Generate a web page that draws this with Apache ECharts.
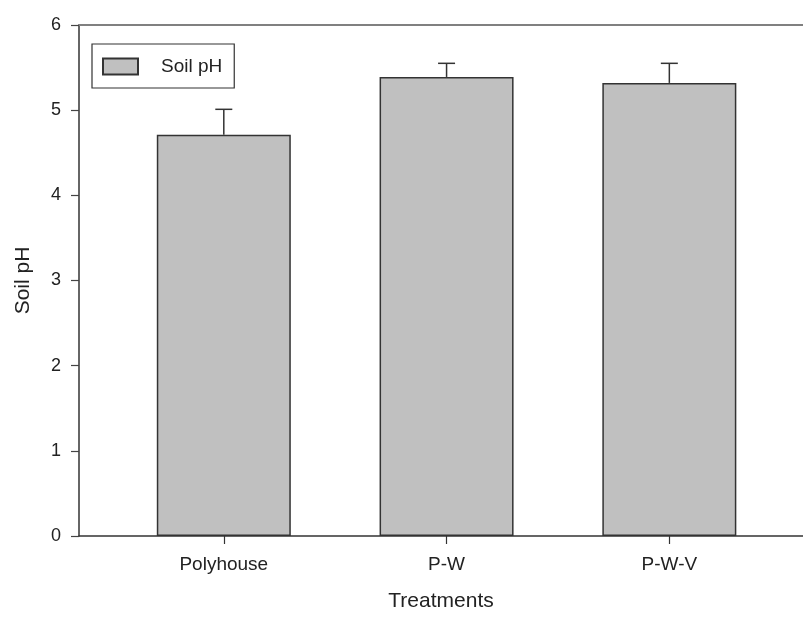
<!DOCTYPE html>
<html>
<head>
<meta charset="utf-8">
<script src="https://cdn.jsdelivr.net/npm/echarts@6/dist/echarts.min.js"></script>
<style>html,body{margin:0;padding:0;background:#fff}#c{width:803px;height:617px}</style>
</head>
<body>
<div id="c"></div>
<script>
var categories = ['Polyhouse', 'P-W', 'P-W-V'];
var positions = [1, 2, 3];
var soilPH = [4.71, 5.39, 5.32];
var soilPHErr = [0.30, 0.16, 0.23];
var yTicks = [0, 1, 2, 3, 4, 5, 6];

var barData = positions.map(function (p, i) { return [p, soilPH[i]]; });
var errData = positions.map(function (p, i) { return [p, soilPH[i], soilPH[i] + soilPHErr[i]]; });

var FONT = 'Liberation Sans';
var chart = echarts.init(document.getElementById('c'));
chart.setOption({
  animation: false,
  backgroundColor: '#fff',
  textStyle: { fontFamily: FONT },
  grid: { left: 79, right: 0, top: 25, bottom: 75 },
  legend: {
    left: 92, top: 44,
    orient: 'vertical',
    padding: [13, 12, 12, 10],
    borderColor: '#333', borderWidth: 1.2, borderRadius: 0,
    itemWidth: 35, itemHeight: 16,
    textStyle: { fontFamily: FONT, fontSize: 19, color: '#222', padding: [0, 0, 0, 18] },
    data: [{ name: 'Soil pH', icon: 'rect' }]
  },
  xAxis: [{
    type: 'value', min: 0.35, max: 3.6,
    position: 'bottom',
    splitLine: { show: false },
    axisLine: { show: true, onZero: false, lineStyle: { color: '#333', width: 1.5 } },
    axisTick: { show: true, customValues: positions, length: 8, inside: false, lineStyle: { color: '#333', width: 1.2 } },
    axisLabel: {
      customValues: positions, margin: 19, fontSize: 19, color: '#222', fontFamily: FONT,
      formatter: function (v) { var i = positions.indexOf(Math.round(v)); return i >= 0 ? categories[i] : ''; }
    },
    name: 'Treatments', nameLocation: 'middle', nameGap: 55,
    nameTextStyle: { fontSize: 21, color: '#222', fontFamily: FONT }
  }, {
    type: 'value', min: 0.35, max: 3.6,
    position: 'top',
    splitLine: { show: false },
    axisLine: { show: true, onZero: false, lineStyle: { color: '#808080', width: 2 } },
    axisTick: { show: false }, axisLabel: { show: false }
  }],
  yAxis: {
    type: 'value', min: 0, max: 6, interval: 1,
    splitLine: { show: false },
    axisLine: { show: true, lineStyle: { color: '#333', width: 1.5 } },
    axisTick: { show: true, length: 8, lineStyle: { color: '#444', width: 1.2 } },
    axisLabel: {
      margin: 18, fontSize: 18, color: '#222', fontFamily: FONT,
      customValues: yTicks,
      formatter: function (v) { return String(v); }
    },
    name: 'Soil pH', nameLocation: 'middle', nameGap: 45,
    nameTextStyle: { fontSize: 21, color: '#222', fontFamily: FONT }
  },
  series: [{
    name: 'Soil pH',
    type: 'bar',
    xAxisIndex: 0,
    barWidth: 134,
    data: barData,
    itemStyle: { color: '#c0c0c0', borderColor: '#333', borderWidth: 1.5 },
    z: 2
  }, {
    name: 'err',
    type: 'custom',
    xAxisIndex: 0,
    data: errData,
    z: 3,
    renderItem: function (params, api) {
      var x = api.value(0);
      var lo = api.coord([x, api.value(1)]);
      var hi = api.coord([x, api.value(2)]);
      var cap = 8.5;
      return {
        type: 'group',
        children: [
          { type: 'line', shape: { x1: lo[0], y1: lo[1], x2: hi[0], y2: hi[1] }, style: { stroke: '#333', lineWidth: 1.5 } },
          { type: 'line', shape: { x1: hi[0] - cap, y1: hi[1], x2: hi[0] + cap, y2: hi[1] }, style: { stroke: '#333', lineWidth: 1.5 } }
        ]
      };
    }
  }]
});
</script>
</body>
</html>
